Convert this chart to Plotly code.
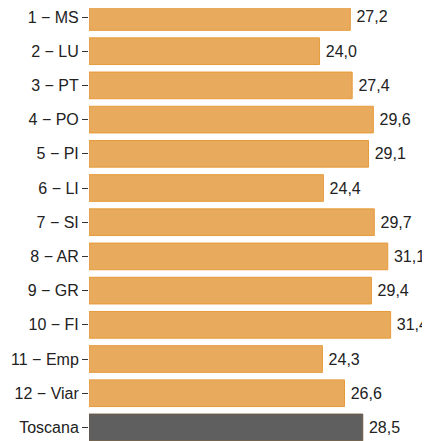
import plotly.graph_objects as go

categories = ["1 − MS", "2 − LU", "3 − PT", "4 − PO", "5 − PI", "6 − LI", "7 − SI",
              "8 − AR", "9 − GR", "10 − FI", "11 − Emp", "12 − Viar", "Toscana"]
values = [27.2, 24.0, 27.4, 29.6, 29.1, 24.4, 29.7, 31.1, 29.4, 31.4, 24.3, 26.6, 28.5]
labels = ["\u2009" + f"{v:.1f}".replace(".", ",") for v in values]

fill = ["#e8aa5c"] * 12 + ["#5f5f5f"]
edge = ["#e69b3a"] * 12 + ["#6b5a40"]

fig = go.Figure(go.Bar(
    x=values, y=categories, orientation="h",
    marker=dict(color=fill, line=dict(color=edge, width=1)),
    text=labels, textposition="outside", cliponaxis=False, constraintext="none",
    textfont=dict(family="Liberation Sans, Arial", size=16, color="#222222"),
    width=0.78,
))
fig.update_layout(
    width=430, height=433,
    margin=dict(l=81, r=8, t=0, b=0, autoexpand=False),
    plot_bgcolor="white", paper_bgcolor="white",
    showlegend=False,
    font=dict(family="Liberation Sans, Arial", size=16, color="#222222"),
)
fig.update_xaxes(range=[0, 35.5], visible=False, automargin=False)
fig.update_yaxes(type="category", categoryorder="array", categoryarray=categories,
                 range=[12.397, -0.263], ticks="outside", ticklen=6, tickcolor="#333333",
                 tickfont=dict(size=16, color="#222222"), showgrid=False, showline=False,
                 automargin=False)
fig.write_html("out.html")
